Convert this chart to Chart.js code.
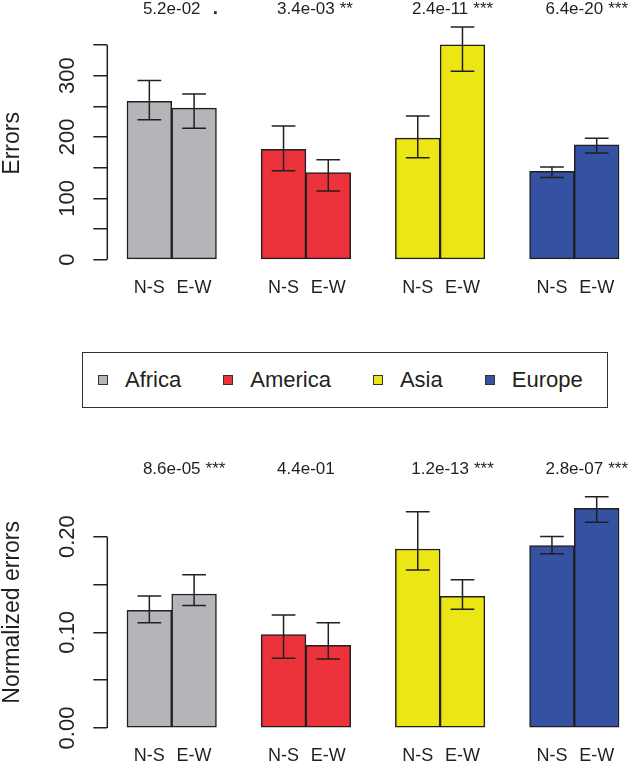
<!DOCTYPE html>
<html>
<head>
<meta charset="utf-8">
<script src="https://cdn.jsdelivr.net/npm/chart.js@4/dist/chart.umd.min.js"></script>
<style>
  html, body { margin: 0; padding: 0; background: #fff; overflow: hidden; }
  #page { position: relative; width: 633px; height: 762px; font-family: 'Liberation Sans', Arial, sans-serif; color: #231f20; }
  canvas { position: absolute; left: 0; }
  #topChart { top: 0; }
  #bottomChart { top: 440px; }
  #legend {
    position: absolute; left: 82px; top: 352px; width: 526px; height: 56px;
    box-sizing: border-box; border: 1.5px solid #333;
    display: flex; align-items: center; padding-left: 15px;
    font-size: 22px;
  }
  #legend .item { display: flex; align-items: center; margin-right: 42px; }
  #legend .swatch { width: 10px; height: 10px; box-sizing: border-box; border: 1px solid #333; margin-right: 17px; }
</style>
</head>
<body>
<div id="page">
  <canvas id="topChart" width="633" height="330"></canvas>
  <div id="legend"></div>
  <canvas id="bottomChart" width="633" height="322"></canvas>
</div>
<script>
const REGIONS = ['Africa', 'America', 'Asia', 'Europe'];
const DIRECTIONS = ['N-S', 'E-W'];
const REGION_COLORS = ['#b3b5b9', '#ec323b', '#ece614', '#3552a2'];

// Errors (top panel): mean with lower / upper error bar ends
const ERR_NS = [258, 180, 198, 144];
const ERR_NS_LO = [228, 145, 166, 134];
const ERR_NS_HI = [292, 218, 234, 151];
const ERR_EW = [247, 142, 350, 187];
const ERR_EW_LO = [214, 112, 307, 174];
const ERR_EW_HI = [270, 163, 379, 198];
const ERR_P = ['5.2e-02', '3.4e-03', '2.4e-11', '6.4e-20'];
const ERR_STARS = ['.', '**', '***', '***'];
const ERR_TICKS = [0, 50, 100, 150, 200, 250, 300, 350];
const ERR_TICK_LABELS = ['0', '', '100', '', '200', '', '300', ''];

// Normalized errors (bottom panel)
const NORM_NS = [0.123, 0.0975, 0.187, 0.1905];
const NORM_NS_LO = [0.110, 0.073, 0.165, 0.182];
const NORM_NS_HI = [0.138, 0.118, 0.226, 0.200];
const NORM_EW = [0.140, 0.0864, 0.1376, 0.2296];
const NORM_EW_LO = [0.128, 0.072, 0.124, 0.215];
const NORM_EW_HI = [0.160, 0.110, 0.155, 0.2417];
const NORM_P = ['8.6e-05', '4.4e-01', '1.2e-13', '2.8e-07'];
const NORM_STARS = ['***', '', '***', '***'];
const NORM_TICKS = [0, 0.05, 0.10, 0.15, 0.20];
const NORM_TICK_LABELS = ['0.00', '', '0.10', '', '0.20'];

const FONT = "'Liberation Sans', Arial, sans-serif";
const INK = '#231f20';

// barplot-style positions: groups of two bars, one bar-width gap before each group
const xOf = (g, k) => 3 * g + 1.5 + k;

function buildPanel(id, p) {
  const pick = (ns, ew) => REGIONS.flatMap((r, g) => [ns[g], ew[g]]);
  const values = pick(p.ns, p.ew);
  const lo = pick(p.nsLo, p.ewLo);
  const hi = pick(p.nsHi, p.ewHi);
  const points = REGIONS.flatMap((r, g) => DIRECTIONS.map((d, k) => ({ x: xOf(g, k), y: values[g * 2 + k] })));
  const colors = REGIONS.flatMap((r, g) => [REGION_COLORS[g], REGION_COLORS[g]]);
  const xTicks = REGIONS.flatMap((r, g) => DIRECTIONS.map((d, k) => xOf(g, k)));
  const yMax = Math.max(...hi);

  const decor = {
    id: 'decor',
    afterDatasetsDraw(chart) {
      const { ctx, chartArea } = chart;
      const xs = chart.scales.x, ys = chart.scales.y;
      const meta = chart.getDatasetMeta(0);
      ctx.save();
      ctx.strokeStyle = INK;
      ctx.fillStyle = INK;
      ctx.lineWidth = 1.5;

      // error bars
      meta.data.forEach((bar, i) => {
        const half = bar.width * 0.265;
        const yl = ys.getPixelForValue(lo[i]);
        const yh = ys.getPixelForValue(hi[i]);
        ctx.beginPath();
        ctx.moveTo(bar.x, yl); ctx.lineTo(bar.x, yh);
        ctx.moveTo(bar.x - half, yl); ctx.lineTo(bar.x + half, yl);
        ctx.moveTo(bar.x - half, yh); ctx.lineTo(bar.x + half, yh);
        ctx.stroke();
      });

      // y axis line, only across the tick range
      ctx.beginPath();
      ctx.moveTo(chartArea.left, ys.getPixelForValue(p.ticks[0]));
      ctx.lineTo(chartArea.left, ys.getPixelForValue(p.ticks[p.ticks.length - 1]));
      ctx.stroke();

      // rotated tick labels
      ctx.font = '22px ' + FONT;
      ctx.textAlign = 'center';
      ctx.textBaseline = 'alphabetic';
      p.tickLabels.forEach((lab, i) => {
        if (!lab) return;
        ctx.save();
        ctx.translate(chartArea.left - 33, ys.getPixelForValue(p.ticks[i]));
        ctx.rotate(-Math.PI / 2);
        ctx.fillText(lab, 0, 0);
        ctx.restore();
      });

      // axis title
      ctx.font = '23px ' + FONT;
      ctx.save();
      ctx.translate(18.5, (chartArea.top + chartArea.bottom) / 2);
      ctx.rotate(-Math.PI / 2);
      ctx.fillText(p.title, 0, 0);
      ctx.restore();

      // p-values above each group, significance code in a three-star slot
      ctx.font = '17px ' + FONT;
      const slot = ctx.measureText('***').width;
      p.pvals.forEach((pv, g) => {
        const cx = xs.getPixelForValue(xOf(g, 0.5));
        const sx = cx + ctx.measureText(pv).width / 2 + 5;
        ctx.textAlign = 'center';
        ctx.fillText(pv, cx, p.pY);
        const code = p.stars[g];
        if (code === '.') {
          ctx.font = 'bold 19px ' + FONT;
          ctx.fillText(code, sx + slot / 2, p.pY);
          ctx.font = '17px ' + FONT;
        } else if (code) {
          ctx.textAlign = 'left';
          ctx.fillText(code, sx, p.pY);
        }
      });
      ctx.restore();
    }
  };

  return new Chart(document.getElementById(id), {
    type: 'bar',
    data: {
      datasets: [{
        label: p.title,
        data: points,
        backgroundColor: colors,
        borderColor: INK,
        borderWidth: 1.5,
        borderSkipped: false,
        barPercentage: 1,
        categoryPercentage: 1
      }]
    },
    options: {
      responsive: false,
      animation: false,
      layout: { padding: { top: p.padTop, right: 5, bottom: 0, left: 0 } },
      plugins: { legend: { display: false }, tooltip: { enabled: false } },
      scales: {
        x: {
          type: 'linear',
          offset: false,
          min: 0.56,
          max: 12.2,
          grid: { display: false, drawTicks: false, offset: false },
          border: { display: false },
          afterBuildTicks: s => { s.ticks = xTicks.map(v => ({ value: v })); },
          afterFit: s => { s.height = p.xHeight; },
          ticks: {
            autoSkip: false,
            maxRotation: 0,
            minRotation: 0,
            padding: 8,
            color: INK,
            font: { family: FONT, size: 18 },
            callback: (v, i) => DIRECTIONS[i % 2]
          }
        },
        y: {
          min: -0.04 * yMax,
          max: 1.04 * yMax,
          grid: { drawOnChartArea: false, drawTicks: true, tickLength: 14, color: INK, lineWidth: 1.5 },
          border: { display: false },
          afterBuildTicks: s => { s.ticks = p.ticks.map(v => ({ value: v })); },
          afterFit: s => { s.width = 107.3; },
          ticks: { display: false }
        }
      }
    },
    plugins: [decor]
  });
}

buildPanel('topChart', {
  title: 'Errors',
  ns: ERR_NS, nsLo: ERR_NS_LO, nsHi: ERR_NS_HI,
  ew: ERR_EW, ewLo: ERR_EW_LO, ewHi: ERR_EW_HI,
  pvals: ERR_P, stars: ERR_STARS,
  ticks: ERR_TICKS, tickLabels: ERR_TICK_LABELS,
  padTop: 17.8, xHeight: 61, pY: 13.5
});

buildPanel('bottomChart', {
  title: 'Normalized errors',
  ns: NORM_NS, nsLo: NORM_NS_LO, nsHi: NORM_NS_HI,
  ew: NORM_EW, ewLo: NORM_EW_LO, ewHi: NORM_EW_HI,
  pvals: NORM_P, stars: NORM_STARS,
  ticks: NORM_TICKS, tickLabels: NORM_TICK_LABELS,
  padTop: 47.4, xHeight: 24.7, pY: 34.3
});

// legend between the panels
const legend = document.getElementById('legend');
REGIONS.forEach((r, g) => {
  const item = document.createElement('div');
  item.className = 'item';
  const sw = document.createElement('span');
  sw.className = 'swatch';
  sw.style.background = REGION_COLORS[g];
  const label = document.createElement('span');
  label.textContent = r;
  item.append(sw, label);
  legend.appendChild(item);
});
</script>
</body>
</html>
